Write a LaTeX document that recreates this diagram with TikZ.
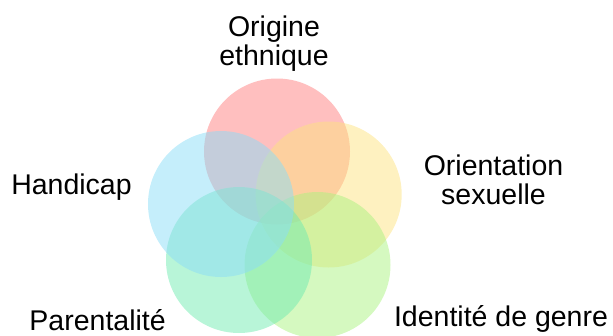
\documentclass[tikz,border=0pt]{standalone}
\usepackage{fontspec}
\setmainfont{Liberation Sans}
\definecolor{cred}{RGB}{255,127,127}
\definecolor{cyellow}{RGB}{253,227,129}
\definecolor{cgreen}{RGB}{171,243,129}
\definecolor{cteal}{RGB}{113,235,177}
\definecolor{cblue}{RGB}{139,221,247}
\begin{document}
\begin{tikzpicture}[x=1pt,y=-1pt,
  venn/.style={circle,minimum size=146pt,inner sep=0pt,fill opacity=0.5,draw=none},
  lbl/.style={font=\fontsize{28.5}{29}\selectfont,inner sep=0pt,align=center,text=black}]
\useasboundingbox (0,0) rectangle (613,335);
\node[venn,fill=cred]    (ori) at (277,151.5) {};
\node[venn,fill=cyellow] (sex) at (328.7,194.5) {};
\node[venn,fill=cgreen]  (gen) at (317.5,265) {};
\node[venn,fill=cteal]   (par) at (239,260) {};
\node[venn,fill=cblue]   (han) at (221,204) {};
\node[lbl] (tori) at (274,43.5) {Origine\\ethnique};
\node[lbl] (tsex) at (493.5,180.3) {Orientation\\sexuelle};
\node[lbl,anchor=base] (than) at (71.5,194) {Handicap};
\node[lbl,anchor=base] (tpar) at (97.6,330) {Parentalité};
\node[lbl,anchor=base] (tgen) at (501,326) {Identité de genre};
\end{tikzpicture}
\end{document}
